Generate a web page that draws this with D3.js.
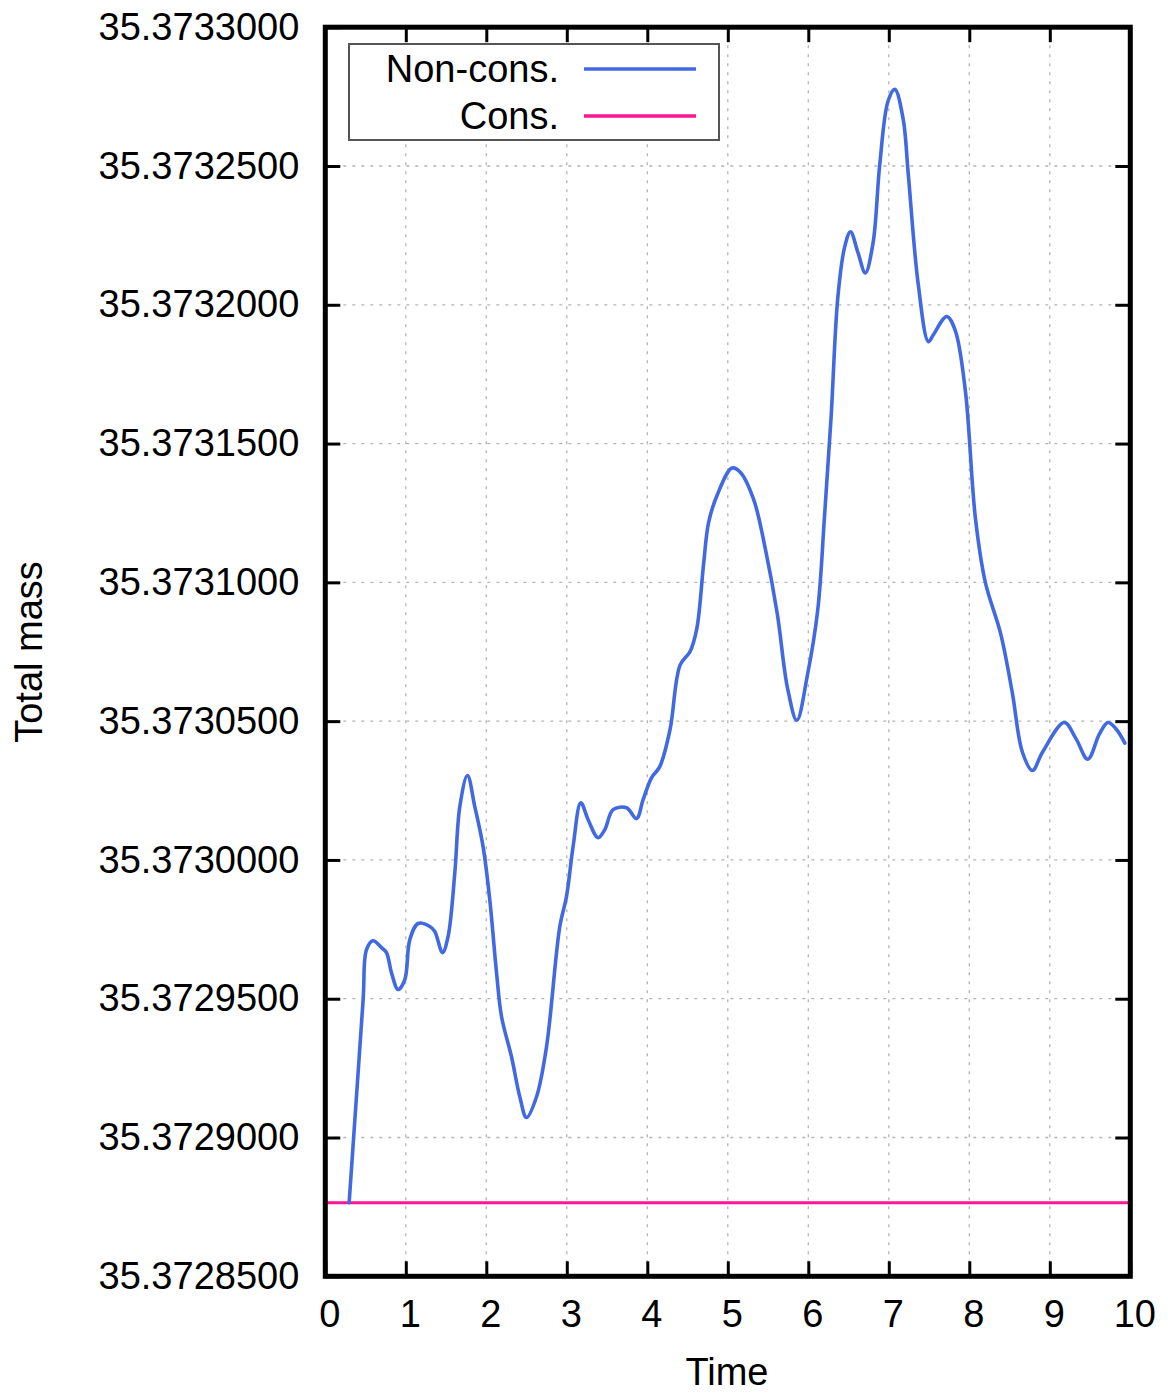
<!DOCTYPE html>
<html>
<head>
<meta charset="utf-8">
<script src="https://cdn.jsdelivr.net/npm/d3@7"></script>
<style>
  html, body { margin: 0; padding: 0; background: #fff; }
  svg { display: block; }
  text { font-family: "Liberation Sans", Arial, Helvetica, sans-serif; fill: #000; }
</style>
</head>
<body>
<svg id="chart" width="1168" height="1394"></svg>
<script>
// Total mass history, non-conservative scheme
const timeNonCons = [0.296, 0.470, 0.512, 0.594, 0.698, 0.760, 0.822, 0.904, 0.988, 1.050,
  1.153, 1.298, 1.360, 1.456, 1.525, 1.609, 1.671, 1.766, 1.857, 1.960,
  2.043, 2.127, 2.189, 2.313, 2.416, 2.499, 2.624, 2.748, 2.913, 2.996,
  3.078, 3.174, 3.265, 3.389, 3.472, 3.575, 3.742, 3.866, 3.948, 4.052,
  4.155, 4.282, 4.407, 4.532, 4.615, 4.699, 4.761, 4.866, 5.053, 5.158,
  5.324, 5.470, 5.616, 5.742, 5.857, 5.991, 6.117, 6.200, 6.283, 6.366,
  6.450, 6.524, 6.616, 6.708, 6.804, 6.887, 6.991, 7.075, 7.179, 7.242,
  7.366, 7.492, 7.554, 7.720, 7.825, 7.950, 8.076, 8.200, 8.388, 8.534,
  8.660, 8.784, 8.909, 9.180, 9.325, 9.472, 9.617, 9.722, 9.826, 9.932];
const massNonCons = [35.3728765, 35.3729497, 35.3729677, 35.3729709, 35.3729684, 35.3729666, 35.3729594, 35.3729533, 35.3729569, 35.3729713,
  35.3729771, 35.3729760, 35.3729742, 35.3729666, 35.3729724, 35.3729954, 35.3730192, 35.3730304, 35.3730192, 35.3730048,
  35.3729857, 35.3729594, 35.3729436, 35.3729291, 35.3729147, 35.3729072, 35.3729147, 35.3729327, 35.3729760, 35.3729868,
  35.3730048, 35.3730206, 35.3730145, 35.3730080, 35.3730109, 35.3730181, 35.3730188, 35.3730149, 35.3730217, 35.3730296,
  35.3730336, 35.3730469, 35.3730702, 35.3730751, 35.3730833, 35.3731065, 35.3731215, 35.3731313, 35.3731412, 35.3731396,
  35.3731296, 35.3731115, 35.3730884, 35.3730619, 35.3730503, 35.3730669, 35.3730900, 35.3731231, 35.3731594, 35.3732024,
  35.3732206, 35.3732263, 35.3732189, 35.3732115, 35.3732222, 35.3732503, 35.3732734, 35.3732776, 35.3732668, 35.3732470,
  35.3732073, 35.3731867, 35.3731892, 35.3731958, 35.3731908, 35.3731693, 35.3731231, 35.3730999, 35.3730817, 35.3730603,
  35.3730388, 35.3730322, 35.3730388, 35.3730495, 35.3730437, 35.3730363, 35.3730454, 35.3730495, 35.3730471, 35.3730421];

// Total mass history, conservative scheme (constant)
const timeCons = [0, 10];
const massCons = [35.3728765, 35.3728765];

const seriesNames = ["Non-cons.", "Cons."];
const seriesColors = ["#4169e1", "#ff1493"];

const xTicks = [0, 1, 2, 3, 4, 5, 6, 7, 8, 9, 10];
const yTicks = [35.37285, 35.3729, 35.37295, 35.373, 35.37305, 35.3731, 35.37315, 35.3732, 35.37325, 35.3733];

const xLabel = "Time";
const yLabel = "Total mass";

const svg = d3.select("#chart");
const L = 325.3, R = 1130.3, T = 27.2, B = 1276.3;

const x = d3.scaleLinear().domain([0, 10]).range([L, R]);
const y = d3.scaleLinear().domain([35.37285, 35.3733]).range([B, T]);

// grid
const grid = svg.append("g").attr("stroke", "#b4b4b4").attr("stroke-width", 1.3)
  .attr("stroke-dasharray", "3,6");
grid.selectAll("line.gx").data(xTicks.slice(1, -1)).join("line")
  .attr("x1", d => x(d)).attr("x2", d => x(d)).attr("y1", T).attr("y2", B);
grid.selectAll("line.gy").data(yTicks.slice(1, -1)).join("line")
  .attr("x1", L).attr("x2", R).attr("y1", d => y(d)).attr("y2", d => y(d));

// axes with inward ticks on all four sides
const tickLen = 15;
function styleAxis(g) {
  g.select(".domain").remove();
  g.selectAll(".tick line").attr("stroke", "#000").attr("stroke-width", 3);
  g.selectAll(".tick text").attr("font-size", 38).attr("fill", "#000")
    .attr("font-family", "'Liberation Sans', Arial, sans-serif");
}
svg.append("g").attr("transform", `translate(0,${B})`)
  .call(d3.axisBottom(x).tickValues(xTicks).tickSize(-tickLen).tickPadding(24).tickFormat(d3.format("d")))
  .call(styleAxis)
  .call(g => g.selectAll(".tick text").attr("dx", 4));
svg.append("g").attr("transform", `translate(0,${T})`)
  .call(d3.axisTop(x).tickValues(xTicks.slice(1, -1)).tickSize(-tickLen).tickFormat(""))
  .call(styleAxis);
svg.append("g").attr("transform", `translate(${L},0)`)
  .call(d3.axisLeft(y).tickValues(yTicks).tickSize(-tickLen).tickPadding(26).tickFormat(d3.format(".7f")))
  .call(styleAxis);
svg.append("g").attr("transform", `translate(${R},0)`)
  .call(d3.axisRight(y).tickValues(yTicks.slice(1, -1)).tickSize(-tickLen).tickFormat(""))
  .call(styleAxis);

// series
const line = d3.line().x(d => x(d[0])).y(d => y(d[1])).curve(d3.curveCatmullRom.alpha(0.5));
const consData = d3.zip(timeCons, massCons);
const nonConsData = d3.zip(timeNonCons, massNonCons);
svg.append("path").datum(consData).attr("d", line)
  .attr("fill", "none").attr("stroke", seriesColors[1]).attr("stroke-width", 3);
svg.append("path").datum(nonConsData).attr("d", line)
  .attr("fill", "none").attr("stroke", seriesColors[0]).attr("stroke-width", 3.6)
  .attr("stroke-linejoin", "round").attr("stroke-linecap", "round");

// frame
svg.append("rect").attr("x", L).attr("y", T).attr("width", R - L).attr("height", B - T)
  .attr("fill", "none").attr("stroke", "#000").attr("stroke-width", 5);

// legend
const lg = svg.append("g");
lg.append("rect").attr("x", 349).attr("y", 44).attr("width", 370).attr("height", 96)
  .attr("fill", "#fff").attr("stroke", "#555").attr("stroke-width", 2);
seriesNames.forEach((name, i) => {
  const cy = 69 + i * 47;
  lg.append("text").attr("x", 559).attr("y", cy).attr("dy", "0.35em")
    .attr("text-anchor", "end").attr("font-size", 38).text(name);
  lg.append("line").attr("x1", 584).attr("x2", 696).attr("y1", cy).attr("y2", cy)
    .attr("stroke", seriesColors[i]).attr("stroke-width", 3.4);
});

// axis titles
svg.append("text").attr("x", 727).attr("y", 1385).attr("text-anchor", "middle")
  .attr("font-size", 38).text(xLabel);
svg.append("text").attr("transform", "translate(42,652) rotate(-90)")
  .attr("text-anchor", "middle").attr("font-size", 38).text(yLabel);
</script>
</body>
</html>
